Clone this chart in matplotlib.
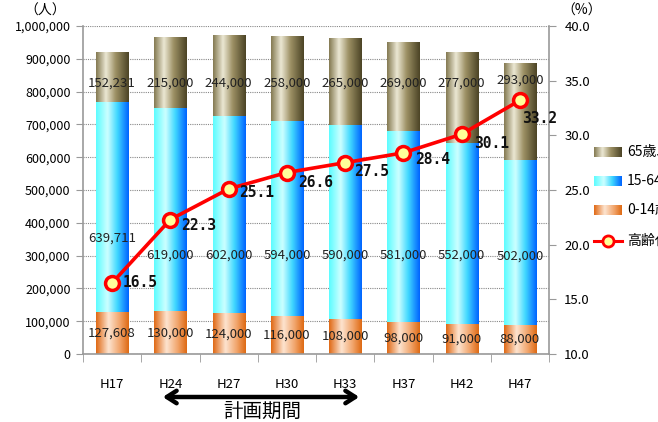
import numpy as np
import matplotlib
matplotlib.use("Agg")
import matplotlib.pyplot as plt
from matplotlib.colors import LinearSegmentedColormap
from matplotlib.lines import Line2D

plt.rcParams['font.family'] = ['Noto Sans CJK JP', 'DejaVu Sans']

years = ["H17", "H24", "H27", "H30", "H33", "H37", "H42", "H47"]
age_0_14 = [127608, 130000, 124000, 116000, 108000, 98000, 91000, 88000]
age_15_64 = [639711, 619000, 602000, 594000, 590000, 581000, 552000, 502000]
age_65 = [152231, 215000, 244000, 258000, 265000, 269000, 277000, 293000]
aging_rate = [16.5, 22.3, 25.1, 26.6, 27.5, 28.4, 30.1, 33.2]

legend_labels = ["65歳以上", "15-64歳", "0-14歳", "高齢化率"]

# label heights for the stacked values (data units of the left axis)
blue_label_y = [354000, 302000, 302000, 302000, 302000, 302000, 300000, 297000]
olive_label_y = [826000, 826000, 826000, 826000, 826000, 826000, 826000, 835000]
# offsets (pixels) of the rate labels from their markers
rate_off = [(11, 0), (11, -6), (11, -4), (11, -10), (9, -9), (12, -7), (12, -9), (2, -18)]

W, H = 658, 422
fig = plt.figure(figsize=(W / 100, H / 100), dpi=100)
ax = fig.add_axes([83 / W, 1 - 354 / H, (549 - 83) / W, (354 - 26) / H])

cm_orange = LinearSegmentedColormap.from_list(
    "o", [(0, "#e06a16"), (0.38, "#fde4d0"), (0.75, "#f0a064"), (1, "#de6a14")])
cm_blue = LinearSegmentedColormap.from_list(
    "b", [(0, "#5cfcff"), (0.35, "#cdffff"), (0.65, "#40d8ff"), (1, "#0064ff")])
cm_olive = LinearSegmentedColormap.from_list(
    "g", [(0, "#847a52"), (0.3, "#ece8d4"), (0.6, "#9c9064"), (1, "#4c4426")])
grad = np.linspace(0, 1, 64).reshape(1, -1)

x = np.arange(len(years))
bw = 0.55


def grad_bar(xc, y0, h, cmap):
    ax.imshow(grad, cmap=cmap, aspect='auto', interpolation='bicubic',
              extent=[xc - bw / 2, xc + bw / 2, y0, y0 + h], zorder=2)


for i in range(len(years)):
    b0 = 0
    grad_bar(x[i], b0, age_0_14[i], cm_orange)
    b0 += age_0_14[i]
    grad_bar(x[i], b0, age_15_64[i], cm_blue)
    b0 += age_15_64[i]
    grad_bar(x[i], b0, age_65[i], cm_olive)

    ax.text(x[i], age_0_14[i] / 2, f"{age_0_14[i]:,}", ha='center', va='center',
            fontsize=9.5, color='#222222', zorder=3)
    ax.text(x[i], blue_label_y[i], f"{age_15_64[i]:,}", ha='center', va='center',
            fontsize=9.5, color='#222222', zorder=3)
    ax.text(x[i], olive_label_y[i], f"{age_65[i]:,}", ha='center', va='center',
            fontsize=9.5, color='#222222', zorder=3)

ax.set_xlim(-0.5, len(years) - 0.5)
ax.set_ylim(0, 1000000)
ax.set_yticks(np.arange(0, 1000001, 100000))
ax.set_yticklabels([f"{v:,}" for v in range(0, 1000001, 100000)], fontsize=9)
ax.yaxis.grid(True, color='#888888', linestyle=(0, (1, 1)), linewidth=0.8)
ax.set_axisbelow(True)
ax.set_xticks(x)
ax.set_xticklabels(years, fontsize=9.5)
ax.set_xticks(np.arange(-0.5, len(years), 1), minor=True)
ax.tick_params(axis='x', which='major', length=0, pad=17)
ax.tick_params(axis='x', which='minor', length=6, color='#999999', direction='out')
ax.tick_params(axis='y', length=5, color='#999999', direction='out', pad=4)
for s in ['top', 'right']:
    ax.spines[s].set_visible(False)
for s in ['left', 'bottom']:
    ax.spines[s].set_color('#999999')
    ax.spines[s].set_linewidth(1.2)

ax2 = ax.twinx()
ax2.set_ylim(10, 40)
ax2.set_yticks(np.arange(10, 40.1, 5))
ax2.set_yticklabels([f"{v:.1f}" for v in np.arange(10, 40.1, 5)], fontsize=9.5)
ax2.tick_params(axis='y', length=5, color='#999999', direction='out', pad=6)
for s in ['top', 'left', 'bottom']:
    ax2.spines[s].set_visible(False)
ax2.spines['right'].set_color('#999999')
ax2.spines['right'].set_linewidth(1.2)

ax2.plot(x, aging_rate, color='#ff0000', lw=2.6, marker='o', markersize=10,
         markerfacecolor='#ffff99', markeredgecolor='#ff0000', markeredgewidth=2.5,
         zorder=5, clip_on=False)
for i, v in enumerate(aging_rate):
    dx, dy = rate_off[i]
    ax2.annotate(f"{v:.1f}", (x[i], v), xytext=(dx * 0.72, dy * 0.72),
                 textcoords='offset points', ha='left', va='center',
                 fontsize=10.5, fontweight='bold', family='DejaVu Sans Mono',
                 color='#111111', zorder=6)

fig.text(45 / W, 1 - 11 / H, "（人）", ha='center', va='center', fontsize=10)
fig.text(582 / W, 1 - 11 / H, "（%）", ha='center', va='center', fontsize=10)

# planning period arrow
fig.add_artist(matplotlib.patches.FancyArrowPatch(
    (160 / W, 1 - 397 / H), (362 / W, 1 - 397 / H), transform=fig.transFigure,
    arrowstyle='<->,head_length=7,head_width=4.5', color='black', lw=3.2))
fig.text(262 / W, 1 - 411 / H, "計画期間", ha='center', va='center', fontsize=14)

# legend on the right edge
cmaps = [cm_olive, cm_blue, cm_orange]
rows = [152, 181, 210]
for cmap, yy, lab in zip(cmaps, rows, legend_labels[:3]):
    lax = fig.add_axes([594 / W, 1 - (yy + 5) / H, 28 / W, 10 / H])
    lax.imshow(grad, cmap=cmap, aspect='auto', interpolation='bicubic')
    lax.axis('off')
    fig.text(627 / W, 1 - yy / H, lab, ha='left', va='center', fontsize=10)
fig.add_artist(Line2D([594 / W, 622 / W], [1 - 241 / H, 1 - 241 / H],
                      transform=fig.transFigure, color='#ff0000', lw=2.2))
fig.add_artist(Line2D([608 / W], [1 - 241 / H], transform=fig.transFigure,
                      marker='o', markersize=8, markerfacecolor='#ffff99',
                      markeredgecolor='#ff0000', markeredgewidth=2))
fig.text(627 / W, 1 - 241 / H, legend_labels[3], ha='left', va='center', fontsize=10)

fig.savefig("out.png", dpi=100)
